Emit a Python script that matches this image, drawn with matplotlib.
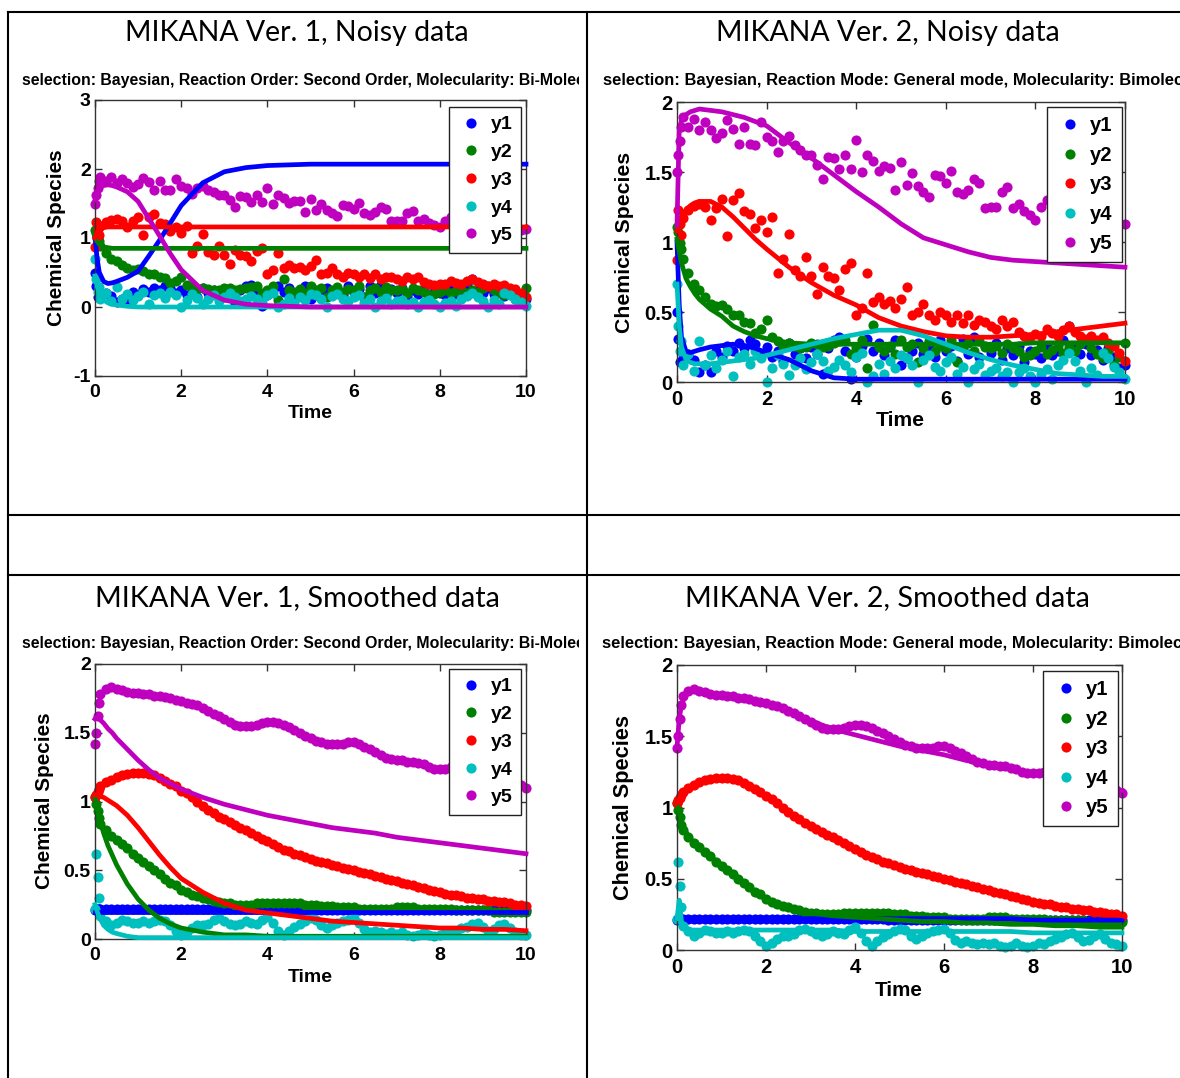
import numpy as np
import matplotlib
matplotlib.use("Agg")
import matplotlib.pyplot as plt
from matplotlib.lines import Line2D
from matplotlib.transforms import Bbox, TransformedBbox

W, H = 1180, 1078

# sample times of the measured series (dense start, then every 0.125)
t_data = np.concatenate([[0, 0.03, 0.06, 0.09], np.arange(1, 81) * 0.125])
# times at which the fitted curves are given
t_fit = [0, 0.05, 0.1, 0.2, 0.3, 0.4, 0.5, 0.75, 1, 1.25, 1.5, 1.75, 2, 2.5, 3,
         3.5, 4, 4.5, 5, 5.5, 6, 6.5, 7, 7.5, 8, 8.5, 9, 9.5, 10]

species = ["y1", "y2", "y3", "y4", "y5"]
colors = [(0, 0, 1), (0, 0.5, 0), (1, 0, 0), (0, 0.75, 0.75), (0.75, 0, 0.75)]

# ---- noisy data (same in both top panels)
noisy_y1 = [0.50, 0.31, 0.14, 0.22,
            0.17, 0.20, 0.16, 0.07, 0.12, 0.07, 0.22, 0.18,
            0.26, 0.22, 0.28, 0.24, 0.30, 0.27, 0.20, 0.25,
            0.18, 0.22, 0.15, 0.28, 0.20, 0.24, 0.17, 0.25,
            0.20, 0.06, 0.24, 0.30, 0.32, 0.22, 0.02, 0.18,
            0.26, 0.31, 0.22, 0.28, 0.19, 0.25, 0.30, 0.12,
            0.17, 0.22, 0.28, 0.20, 0.25, 0.18, 0.30, 0.22,
            0.26, 0.15, 0.31, 0.20, 0.32, 0.18, 0.26, 0.21,
            0.28, 0.16, 0.24, 0.19, 0.26, 0.14, 0.22, 0.20,
            0.17, 0.26, 0.19, 0.22, 0.30, 0.40, 0.25, 0.20,
            0.27, 0.19, 0.23, 0.16, 0.24, 0.18, 0.10, 0.12]
noisy_y2 = [1.11, 1.07, 0.99, 0.95,
            0.88, 0.78, 0.70, 0.66, 0.61, 0.56, 0.54, 0.55,
            0.52, 0.48, 0.48, 0.43, 0.42, 0.35, 0.38, 0.44,
            0.32, 0.29, 0.26, 0.28, 0.26, 0.24, 0.25, 0.28,
            0.27, 0.25, 0.26, 0.28, 0.29, 0.30, 0.20, 0.25,
            0.30, 0.10, 0.41, 0.25, 0.22, 0.26, 0.20, 0.30,
            0.25, 0.27, 0.14, 0.24, 0.29, 0.22, 0.26, 0.24,
            0.30, 0.14, 0.25, 0.28, 0.22, 0.29, 0.25, 0.24,
            0.26, 0.21, 0.27, 0.24, 0.22, 0.18, 0.19, 0.22,
            0.25, 0.20, 0.23, 0.26, 0.21, 0.25, 0.22, 0.27,
            0.30, 0.24, 0.20, 0.17, 0.22, 0.12, 0.18, 0.28]
noisy_y3 = [0.87, 1.23, 1.13, 1.05,
            1.17, 1.23, 1.26, 1.27, 1.25, 1.16, 1.24, 1.31,
            1.04, 1.30, 1.35, 1.22, 1.20, 1.10, 1.16, 1.07,
            1.18, 0.78, 0.88, 1.06, 0.80, 0.76, 0.89, 0.76,
            0.63, 0.82, 0.76, 0.74, 0.66, 0.81, 0.85, 0.48,
            0.53, 0.78, 0.57, 0.61, 0.56, 0.58, 0.53, 0.59,
            0.68, 0.48, 0.50, 0.56, 0.48, 0.44, 0.50, 0.48,
            0.43, 0.48, 0.42, 0.48, 0.41, 0.44, 0.43, 0.40,
            0.38, 0.44, 0.40, 0.43, 0.36, 0.33, 0.32, 0.34,
            0.33, 0.38, 0.35, 0.33, 0.37, 0.40, 0.36, 0.33,
            0.31, 0.33, 0.30, 0.32, 0.28, 0.26, 0.21, 0.15]
noisy_y4 = [0.70, 0.40, 0.22, 0.29,
            0.12, 0.20, 0.08, 0.29, 0.12, 0.19, 0.10, 0.16,
            0.22, 0.04, 0.18, 0.20, 0.13, 0.22, 0.17, 0.00,
            0.10, 0.19, 0.13, 0.05, 0.12, 0.17, 0.09, 0.14,
            0.20, 0.15, 0.08, 0.11, 0.16, 0.12, 0.07, 0.18,
            0.21, 0.00, 0.04, 0.13, 0.06, 0.15, 0.10, 0.19,
            0.17, 0.12, 0.00, 0.16, 0.19, 0.11, 0.08, 0.14,
            0.18, 0.06, 0.11, 0.00, 0.09, 0.13, 0.05, 0.08,
            0.10, 0.04, 0.07, 0.00, 0.07, 0.10, 0.04, 0.00,
            0.06, 0.09, 0.02, 0.12, 0.16, 0.21, 0.15, 0.08,
            0.00, 0.10, 0.05, 0.21, 0.17, 0.11, 0.07, 0.02]
noisy_y5 = [1.50, 1.62, 1.72, 1.82,
            1.89, 1.82, 1.88, 1.80, 1.86, 1.80, 1.74, 1.78,
            1.87, 1.81, 1.70, 1.82, 1.70, 1.69, 1.86, 1.75,
            1.72, 1.64, 1.72, 1.76, 1.69, 1.66, 1.62, 1.62,
            1.55, 1.45, 1.61, 1.60, 1.52, 1.62, 1.52, 1.73,
            1.50, 1.62, 1.58, 1.51, 1.54, 1.53, 1.37, 1.57,
            1.41, 1.49, 1.40, 1.36, 1.32, 1.48, 1.47, 1.42,
            1.51, 1.36, 1.34, 1.37, 1.45, 1.42, 1.24, 1.25,
            1.25, 1.36, 1.39, 1.24, 1.27, 1.22, 1.19, 1.16,
            1.25, 1.30, 1.22, 1.26, 1.18, 1.23, 1.15, 1.20,
            1.24, 1.17, 1.21, 1.14, 1.19, 1.16, 1.12, 1.13]

# ---- smoothed data (same in both bottom panels)
smooth_y1 = [0.21, 0.22, 0.22, 0.22,
             0.22, 0.22, 0.22, 0.22, 0.22, 0.22, 0.22, 0.22,
             0.22, 0.22, 0.22, 0.22, 0.22, 0.22, 0.22, 0.22,
             0.22, 0.22, 0.22, 0.22, 0.22, 0.22, 0.22, 0.22,
             0.22, 0.22, 0.22, 0.22, 0.22, 0.22, 0.22, 0.22,
             0.22, 0.22, 0.22, 0.22, 0.22, 0.21, 0.21, 0.21,
             0.21, 0.21, 0.21, 0.21, 0.21, 0.21, 0.21, 0.21,
             0.21, 0.21, 0.21, 0.21, 0.21, 0.21, 0.21, 0.21,
             0.21, 0.21, 0.21, 0.21, 0.21, 0.21, 0.21, 0.21,
             0.21, 0.21, 0.21, 0.21, 0.21, 0.21, 0.21, 0.21,
             0.21, 0.21, 0.21, 0.21, 0.21, 0.21, 0.21, 0.21]
smooth_y2 = [1.03, 0.98, 0.93, 0.88,
             0.84, 0.79, 0.75, 0.72, 0.69, 0.66, 0.62, 0.59,
             0.56, 0.53, 0.50, 0.47, 0.44, 0.41, 0.39, 0.36,
             0.34, 0.32, 0.31, 0.30, 0.29, 0.28, 0.27, 0.26,
             0.26, 0.25, 0.25, 0.25, 0.25, 0.26, 0.26, 0.26,
             0.26, 0.26, 0.26, 0.26, 0.26, 0.26, 0.25, 0.25,
             0.25, 0.24, 0.24, 0.24, 0.23, 0.23, 0.23, 0.23,
             0.22, 0.22, 0.22, 0.22, 0.22, 0.22, 0.22, 0.23,
             0.23, 0.23, 0.23, 0.22, 0.22, 0.22, 0.22, 0.22,
             0.22, 0.22, 0.21, 0.21, 0.21, 0.21, 0.21, 0.21,
             0.21, 0.20, 0.20, 0.20, 0.20, 0.20, 0.20, 0.20]
smooth_y3 = [1.03, 1.05, 1.07, 1.09,
             1.11, 1.14, 1.16, 1.18, 1.19, 1.20, 1.21, 1.21,
             1.21, 1.20, 1.19, 1.17, 1.15, 1.13, 1.11, 1.08,
             1.06, 1.03, 1.00, 0.97, 0.94, 0.92, 0.89, 0.87,
             0.85, 0.83, 0.81, 0.79, 0.77, 0.75, 0.73, 0.71,
             0.69, 0.67, 0.65, 0.64, 0.62, 0.61, 0.60, 0.58,
             0.57, 0.56, 0.55, 0.54, 0.53, 0.52, 0.51, 0.50,
             0.49, 0.48, 0.47, 0.46, 0.45, 0.44, 0.43, 0.42,
             0.41, 0.40, 0.39, 0.38, 0.37, 0.36, 0.35, 0.34,
             0.33, 0.32, 0.32, 0.31, 0.30, 0.30, 0.29, 0.29,
             0.28, 0.28, 0.27, 0.27, 0.26, 0.25, 0.25, 0.24]
smooth_y4 = [0.22, 0.62, 0.45, 0.30,
             0.17, 0.13, 0.10, 0.12, 0.14, 0.13, 0.12, 0.12,
             0.13, 0.12, 0.13, 0.14, 0.13, 0.10, 0.06, 0.03,
             0.05, 0.08, 0.10, 0.10, 0.11, 0.14, 0.15, 0.13,
             0.11, 0.10, 0.11, 0.13, 0.12, 0.11, 0.14, 0.16,
             0.12, 0.06, 0.03, 0.06, 0.09, 0.11, 0.13, 0.15,
             0.14, 0.10, 0.08, 0.10, 0.12, 0.13, 0.14, 0.15,
             0.12, 0.07, 0.05, 0.06, 0.05, 0.04, 0.05, 0.04,
             0.05, 0.03, 0.02, 0.03, 0.05, 0.03, 0.02, 0.03,
             0.05, 0.04, 0.06, 0.08, 0.09, 0.11, 0.12, 0.09,
             0.06, 0.07, 0.10, 0.11, 0.08, 0.05, 0.04, 0.03]
smooth_y5 = [1.42, 1.50, 1.62, 1.72,
             1.78, 1.82, 1.83, 1.82, 1.81, 1.80, 1.79, 1.79,
             1.78, 1.78, 1.77, 1.77, 1.76, 1.75, 1.74, 1.73,
             1.72, 1.71, 1.70, 1.68, 1.66, 1.64, 1.62, 1.60,
             1.58, 1.56, 1.55, 1.55, 1.55, 1.56, 1.57, 1.58,
             1.58, 1.57, 1.56, 1.54, 1.52, 1.50, 1.48, 1.46,
             1.44, 1.43, 1.42, 1.42, 1.42, 1.42, 1.43, 1.43,
             1.42, 1.40, 1.38, 1.36, 1.34, 1.32, 1.31, 1.30,
             1.30, 1.29, 1.29, 1.28, 1.27, 1.25, 1.24, 1.24,
             1.24, 1.25, 1.26, 1.25, 1.24, 1.23, 1.22, 1.21,
             1.20, 1.19, 1.18, 1.17, 1.15, 1.13, 1.12, 1.10]

# ---- fitted curves, one set per panel
fit1 = [
    [1.00, 0.70, 0.50, 0.37, 0.34, 0.35, 0.37, 0.43, 0.52, 0.74, 0.97, 1.22, 1.47, 1.80, 1.96,
     2.02, 2.05, 2.06, 2.07, 2.07, 2.07, 2.07, 2.07, 2.07, 2.07, 2.07, 2.07, 2.07, 2.07],
    [1.00, 0.95, 0.91, 0.87, 0.86, 0.85, 0.85, 0.85, 0.85, 0.85, 0.85, 0.85, 0.85, 0.85, 0.85,
     0.85, 0.85, 0.85, 0.85, 0.85, 0.85, 0.85, 0.85, 0.85, 0.85, 0.85, 0.85, 0.85, 0.85],
    [1.00, 1.08, 1.12, 1.15, 1.16, 1.16, 1.16, 1.16, 1.16, 1.16, 1.16, 1.16, 1.16, 1.16, 1.16,
     1.16, 1.16, 1.16, 1.16, 1.16, 1.16, 1.16, 1.16, 1.16, 1.16, 1.16, 1.16, 1.16, 1.16],
    [0.45, 0.30, 0.20, 0.10, 0.06, 0.04, 0.03, 0.01, 0.00, 0.00, 0.00, 0.00, 0.00, 0.00, 0.00,
     0.00, 0.00, 0.00, 0.00, 0.00, 0.00, 0.00, 0.00, 0.00, 0.00, 0.00, 0.00, 0.00, 0.00],
    [1.55, 1.68, 1.73, 1.76, 1.77, 1.76, 1.74, 1.67, 1.53, 1.28, 1.03, 0.77, 0.54, 0.24, 0.10,
     0.04, 0.02, 0.01, 0.00, 0.00, 0.00, 0.00, 0.00, 0.00, 0.00, 0.00, 0.00, 0.00, 0.00],
]
fit2 = [
    [1.00, 0.55, 0.32, 0.22, 0.21, 0.22, 0.23, 0.25, 0.26, 0.27, 0.26, 0.24, 0.21, 0.16, 0.08,
     0.03, 0.02, 0.02, 0.02, 0.02, 0.02, 0.02, 0.02, 0.02, 0.02, 0.02, 0.02, 0.02, 0.02],
    [1.02, 0.93, 0.85, 0.74, 0.68, 0.63, 0.59, 0.52, 0.47, 0.40, 0.36, 0.33, 0.31, 0.28, 0.27,
     0.27, 0.27, 0.27, 0.27, 0.27, 0.27, 0.27, 0.27, 0.27, 0.28, 0.28, 0.28, 0.28, 0.28],
    [1.08, 1.12, 1.16, 1.23, 1.26, 1.28, 1.29, 1.29, 1.25, 1.18, 1.10, 1.02, 0.95, 0.82, 0.71,
     0.62, 0.55, 0.46, 0.40, 0.36, 0.33, 0.32, 0.32, 0.33, 0.34, 0.36, 0.38, 0.40, 0.42],
    [0.70, 0.40, 0.25, 0.16, 0.14, 0.13, 0.13, 0.13, 0.14, 0.15, 0.16, 0.17, 0.19, 0.23, 0.27,
     0.31, 0.34, 0.37, 0.37, 0.33, 0.27, 0.21, 0.16, 0.12, 0.09, 0.06, 0.05, 0.04, 0.04],
    [1.12, 1.80, 1.87, 1.91, 1.93, 1.94, 1.95, 1.94, 1.93, 1.91, 1.89, 1.86, 1.83, 1.71, 1.60,
     1.48, 1.36, 1.25, 1.13, 1.03, 0.98, 0.93, 0.89, 0.87, 0.86, 0.85, 0.84, 0.83, 0.82],
]
fit3 = [
    [0.20, 0.20, 0.20, 0.20, 0.20, 0.20, 0.20, 0.20, 0.20, 0.20, 0.20, 0.20, 0.20, 0.20, 0.20,
     0.20, 0.20, 0.20, 0.20, 0.20, 0.20, 0.20, 0.20, 0.20, 0.20, 0.20, 0.20, 0.20, 0.20],
    [1.03, 0.95, 0.88, 0.77, 0.68, 0.61, 0.54, 0.40, 0.29, 0.21, 0.15, 0.11, 0.08, 0.05, 0.03,
     0.03, 0.02, 0.02, 0.02, 0.02, 0.02, 0.02, 0.02, 0.02, 0.02, 0.02, 0.02, 0.02, 0.02],
    [1.05, 1.05, 1.04, 1.03, 1.01, 0.99, 0.97, 0.90, 0.81, 0.71, 0.61, 0.52, 0.44, 0.34, 0.26,
     0.21, 0.19, 0.17, 0.15, 0.13, 0.12, 0.11, 0.10, 0.09, 0.08, 0.08, 0.07, 0.07, 0.06],
    [0.25, 0.20, 0.16, 0.10, 0.07, 0.05, 0.04, 0.02, 0.01, 0.01, 0.01, 0.01, 0.01, 0.01, 0.01,
     0.01, 0.01, 0.01, 0.01, 0.01, 0.01, 0.01, 0.01, 0.01, 0.01, 0.01, 0.01, 0.01, 0.01],
    [1.60, 1.62, 1.60, 1.57, 1.53, 1.50, 1.46, 1.38, 1.30, 1.23, 1.17, 1.13, 1.09, 1.03, 0.98,
     0.94, 0.90, 0.87, 0.84, 0.81, 0.79, 0.77, 0.74, 0.72, 0.70, 0.68, 0.66, 0.64, 0.62],
]
fit4 = [
    [0.22, 0.22, 0.22, 0.22, 0.22, 0.22, 0.22, 0.22, 0.22, 0.22, 0.22, 0.22, 0.22, 0.22, 0.22,
     0.22, 0.22, 0.22, 0.22, 0.22, 0.22, 0.22, 0.22, 0.22, 0.21, 0.21, 0.21, 0.21, 0.21],
    [1.03, 0.96, 0.90, 0.83, 0.78, 0.75, 0.72, 0.66, 0.59, 0.53, 0.47, 0.41, 0.36, 0.30, 0.26,
     0.24, 0.23, 0.22, 0.21, 0.20, 0.20, 0.19, 0.19, 0.18, 0.18, 0.17, 0.17, 0.16, 0.16],
    [1.03, 1.06, 1.09, 1.12, 1.15, 1.17, 1.18, 1.20, 1.21, 1.20, 1.17, 1.13, 1.08, 0.97, 0.87,
     0.79, 0.71, 0.64, 0.58, 0.54, 0.50, 0.46, 0.42, 0.38, 0.34, 0.31, 0.29, 0.27, 0.24],
    [0.22, 0.35, 0.20, 0.15, 0.14, 0.14, 0.14, 0.14, 0.14, 0.14, 0.14, 0.14, 0.14, 0.14, 0.14,
     0.14, 0.13, 0.13, 0.13, 0.13, 0.13, 0.13, 0.13, 0.13, 0.12, 0.12, 0.12, 0.12, 0.12],
    [1.42, 1.62, 1.72, 1.80, 1.82, 1.82, 1.82, 1.80, 1.79, 1.78, 1.77, 1.75, 1.73, 1.68, 1.61,
     1.55, 1.51, 1.47, 1.43, 1.40, 1.37, 1.33, 1.30, 1.27, 1.24, 1.21, 1.18, 1.15, 1.12],
]

noisy = [noisy_y1, noisy_y2, noisy_y3, noisy_y4, noisy_y5]
smooth = [smooth_y1, smooth_y2, smooth_y3, smooth_y4, smooth_y5]

titles = ["MIKANA Ver. 1, Noisy data", "MIKANA Ver. 2, Noisy data",
          "MIKANA Ver. 1, Smoothed data", "MIKANA Ver. 2, Smoothed data"]
sub_v1 = "selection: Bayesian, Reaction Order: Second Order, Molecularity: Bi-Molecular"
sub_v2 = "selection: Bayesian, Reaction Mode: General mode, Molecularity: Bimolecular"

fig = plt.figure(figsize=(W / 100, H / 100), dpi=100)
renderer = fig.canvas.get_renderer()
MFONT = "Liberation Sans"


def fx(x):
    return x / W


def fy(y):
    return 1 - y / H


# table grid
for (x0, y0, x1, y1) in [(8, 12, 1180, 12), (8, 515, 1180, 515), (8, 575, 1180, 575),
                         (8, 12, 8, 1078), (587, 12, 587, 1078)]:
    fig.add_artist(Line2D([fx(x0), fx(x1)], [fy(y0), fy(y1)], color="black", lw=1.5,
                          transform=fig.transFigure))


def fit_len(txt, target, vertical=False):
    bb = txt.get_window_extent(renderer)
    size = bb.height if vertical else bb.width
    txt.set_fontsize(txt.get_fontsize() * target / size)


def size_for(text, target, **kw):
    tmp = fig.text(0, 0, text, fontsize=10, **kw)
    w = tmp.get_window_extent(renderer).width
    tmp.remove()
    return 10 * target / w


sub_size_v1 = size_for("selection: Bayesian, Reaction Order: Second Order, Molecularity: Bi-Mole",
                       553, family=MFONT, fontweight="bold")
sub_size_v2 = size_for("selection: Bayesian, Reaction Mode: General mode, Molecularity: Bimole",
                       570, family=MFONT, fontweight="bold")

panels = [
    dict(box=(95, 100, 526, 376), ylim=(-1, 3), yt=[-1, 0, 1, 2, 3], data=noisy, fit=fit1,
         title=(297, 41.5, 343), sub=(22.5, 85, sub_v1, 579, sub_size_v1),
         xl=(310, 414, 45), yl=(57, 238, 177), leg=(521, 107), fs=14),
    dict(box=(677, 102, 1125, 382), ylim=(0, 2), yt=[0, 0.5, 1, 1.5, 2], data=noisy, fit=fit2,
         title=(888, 41.5, 344), sub=(603, 85, sub_v2, 1180, sub_size_v2),
         xl=(900, 421, 49), yl=(625, 242, 181), leg=(1122, 107), fs=14.6),
    dict(box=(95, 664, 526, 939), ylim=(0, 2), yt=[0, 0.5, 1, 1.5, 2], data=smooth, fit=fit3,
         title=(297, 606.5, 406), sub=(22.5, 648, sub_v1, 579, sub_size_v1),
         xl=(310, 977, 45), yl=(45, 801, 177), leg=(521, 669), fs=14),
    dict(box=(677, 665, 1122, 950), ylim=(0, 2), yt=[0, 0.5, 1, 1.5, 2], data=smooth, fit=fit4,
         title=(887, 606.5, 406), sub=(602, 648, sub_v2, 1180, sub_size_v2),
         xl=(899, 990, 48), yl=(624, 807, 185), leg=(1118, 671), fs=14.6),
]

for p, title in zip(panels, titles):
    x0, y0, x1, y1 = p["box"]
    fs = p["fs"]
    ax = fig.add_axes([fx(x0), fy(y1), (x1 - x0) / W, (y1 - y0) / H])
    handles = []
    for vals, c in zip(p["data"], colors):
        h, = ax.plot(t_data, vals, "o", color=c, ms=7.3, mec="none", clip_on=False, zorder=2)
        handles.append(h)
    for vals, c in zip(p["fit"], colors):
        ax.plot(t_fit, vals, "-", color=c, lw=3.4, clip_on=False, zorder=3)

    ax.set_xlim(0, 10)
    ax.set_ylim(*p["ylim"])
    ax.set_xticks([0, 2, 4, 6, 8, 10])
    ax.set_xticklabels(["0", "2", "4", "6", "8", "10"])
    ax.set_yticks(p["yt"])
    ax.set_yticklabels(["%g" % v for v in p["yt"]])
    ax.tick_params(direction="in", length=5, width=1, top=True, right=True,
                   labelsize=fs, color="#333333")
    ax.tick_params(axis="x", pad=6)
    ax.tick_params(axis="y", pad=3)
    for lab in ax.get_xticklabels() + ax.get_yticklabels():
        lab.set_fontweight("bold")
        lab.set_family(MFONT)
    for s in ax.spines.values():
        s.set_color("#333333")
        s.set_linewidth(1)

    lx, ly = p["leg"]
    leg = ax.legend(handles, species, loc="upper right",
                    bbox_to_anchor=(fx(lx), fy(ly)), bbox_transform=fig.transFigure,
                    borderaxespad=0, fancybox=False, framealpha=1, edgecolor="#222222",
                    prop=dict(family=MFONT, weight="bold", size=fs),
                    borderpad=0.45, handlelength=1.4, handletextpad=0.3, labelspacing=0.52)
    leg.get_frame().set_linewidth(1)
    leg.set_zorder(10)

    # axis labels
    xt = fig.text(fx(p["xl"][0]), fy(p["xl"][1]), "Time", ha="center", va="center",
                  family=MFONT, fontweight="bold", fontsize=14)
    fit_len(xt, p["xl"][2])
    yt = fig.text(fx(p["yl"][0]), fy(p["yl"][1]), "Chemical Species", ha="center", va="center",
                  rotation=90, family=MFONT, fontweight="bold", fontsize=14)
    fit_len(yt, p["yl"][2], vertical=True)

    # cell title
    tx, tb, tw = p["title"]
    t = fig.text(fx(tx), fy(tb), title, ha="center", va="baseline", family="Lato", fontsize=20)
    fit_len(t, tw)

    # model subtitle, cut off at the cell edge as in the source table
    sx, sb, stext, sclip, ssize = p["sub"]
    st = fig.text(fx(sx), fy(sb), stext, ha="left", va="baseline", family=MFONT,
                  fontweight="bold", fontsize=ssize)
    cell_left = 8 if sx < 587 else 587
    st.set_clip_box(TransformedBbox(Bbox.from_extents(fx(cell_left), 0, fx(sclip), 1),
                                    fig.transFigure))
    st.set_clip_on(True)

fig.savefig("out.png", dpi=100, facecolor="white")
